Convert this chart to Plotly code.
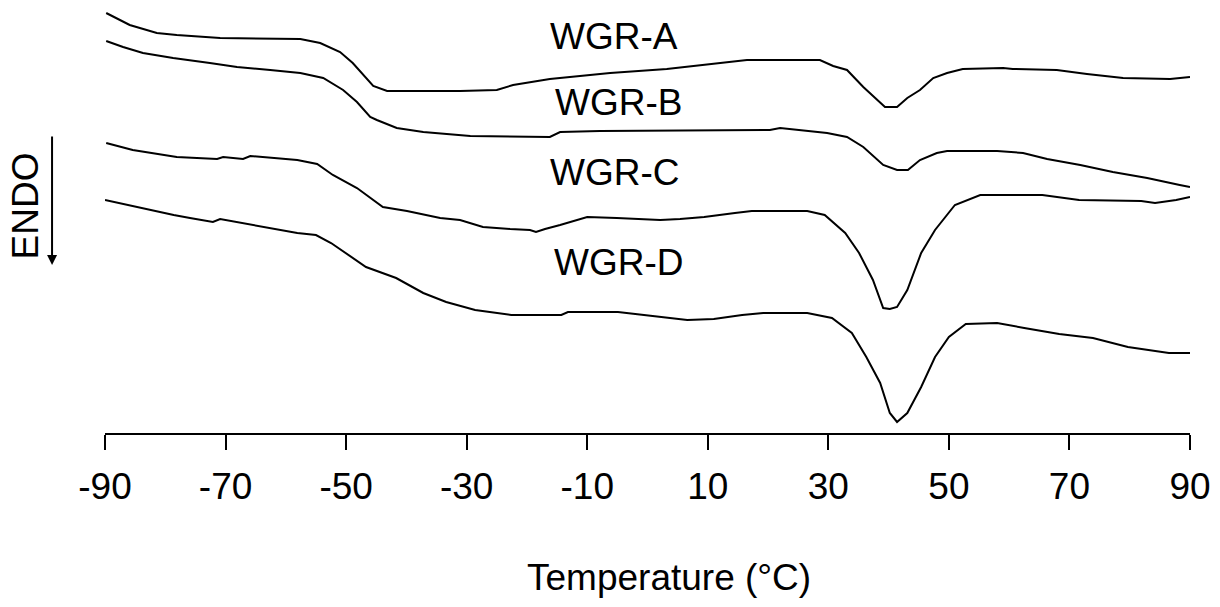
import plotly.graph_objects as go

# ---------------- data ----------------
temp_a = [-89.8, -85.9, -81.4, -78.1, -70.9, -57.6, -54.3, -51.0, -48.9, -47.2, -45.5, -43.2,
          -31.1, -25.0, -22.3, -16.2, -6.2, 3.2, 9.2, 13.2, 16.5, 22.0, 28.6, 30.8, 33.1, 35.8,
          39.4, 41.4, 43.1, 45.2, 47.4, 49.7, 52.3, 59.0, 60.6, 67.9, 72.9, 78.9, 86.7, 90.0]
heat_a = [42.0, 40.8, 40.0, 39.8, 39.5, 39.4, 39.0, 38.1, 37.0, 35.8, 34.7, 34.2,
          34.2, 34.3, 34.8, 35.4, 36.0, 36.4, 36.8, 37.1, 37.3, 37.3, 37.3, 36.7, 36.3, 34.6,
          32.6, 32.6, 33.5, 34.3, 35.5, 36.0, 36.4, 36.5, 36.4, 36.3, 35.9, 35.5, 35.4, 35.6]

temp_b = [-89.8, -87.0, -83.7, -78.7, -72.6, -68.1, -62.6, -57.6, -53.8, -50.5, -48.2, -46.0,
          -44.9, -41.6, -37.2, -29.4, -16.2, -14.5, -7.9, 8.7, 20.3, 22.0, 25.3, 29.8, 33.1,
          35.8, 39.1, 41.4, 43.2, 45.2, 48.0, 49.7, 58.0, 62.3, 66.3, 71.8, 77.2, 82.9, 88.3, 90.0]
heat_b = [39.2, 38.6, 38.0, 37.5, 37.0, 36.6, 36.3, 36.0, 35.5, 34.3, 33.1, 31.6,
          31.3, 30.5, 30.1, 29.7, 29.6, 30.1, 30.2, 30.3, 30.3, 30.5, 30.3, 30.0, 29.6,
          28.6, 26.8, 26.3, 26.3, 27.3, 28.0, 28.2, 28.2, 28.0, 27.4, 26.8, 26.1, 25.5, 24.8, 24.6]

temp_c = [-89.8, -85.4, -78.1, -71.4, -70.4, -67.1, -65.9, -58.1, -54.8, -52.2, -48.2, -43.9,
          -39.9, -34.4, -31.1, -27.3, -22.8, -19.5, -18.5, -17.0, -14.5, -10.0, -5.1, 2.1, 5.4,
          9.4, 14.5, 17.3, 26.5, 29.4, 32.8, 35.1, 37.4, 39.1, 40.2, 41.4, 43.1, 45.4, 47.7,
          51.0, 55.2, 65.5, 71.6, 81.9, 84.2, 87.7, 90.0]
heat_c = [29.0, 28.3, 27.6, 27.4, 27.6, 27.4, 27.7, 27.3, 26.9, 25.8, 24.5, 22.6,
          22.2, 21.5, 21.3, 20.6, 20.4, 20.3, 20.1, 20.4, 20.8, 21.6, 21.5, 21.3, 21.4,
          21.6, 22.0, 22.2, 22.2, 21.8, 20.0, 18.0, 15.3, 12.5, 12.4, 12.6, 14.3, 18.0, 20.3,
          22.8, 23.8, 23.8, 23.3, 23.2, 23.0, 23.3, 23.6]

temp_d = [-90.0, -87.0, -84.9, -81.4, -78.6, -75.9, -72.1, -70.9, -67.1, -62.6, -58.1, -55.0,
          -52.5, -46.7, -41.7, -37.2, -33.4, -28.6, -22.6, -14.3, -13.2, -4.9, 1.4, 6.6, 11.0,
          15.7, 19.2, 26.5, 30.6, 33.9, 36.3, 38.6, 40.2, 41.4, 43.1, 45.4, 47.7, 50.0, 52.8,
          58.0, 62.5, 68.3, 73.9, 79.7, 86.5, 90.0]
heat_d = [23.3, 22.9, 22.6, 22.1, 21.8, 21.5, 21.1, 21.4, 21.0, 20.5, 20.0, 19.8,
          19.0, 16.6, 15.5, 14.0, 13.1, 12.3, 11.8, 11.8, 12.1, 12.1, 11.7, 11.3, 11.4,
          11.8, 12.0, 12.0, 11.5, 10.0, 7.6, 5.0, 2.0, 1.1, 2.0, 4.6, 7.6, 9.6, 10.9,
          11.0, 10.5, 9.9, 9.5, 8.6, 8.0, 8.0]

sample_names = ["WGR-A", "WGR-B", "WGR-C", "WGR-D"]
label_temp = [-5.6, -4.8, -5.4, -4.8]
label_heat = [39.7, 33.1, 26.1, 17.1]
tick_vals = [-90, -70, -50, -30, -10, 10, 30, 50, 70, 90]
tick_text = [str(v) for v in tick_vals]
x_title = "Temperature (°C)"
y_label = "ENDO"

# ---------------- figure ----------------
FONT = "Liberation Sans, Arial, sans-serif"
FS = 37
fig = go.Figure()
for t, h in [(temp_a, heat_a), (temp_b, heat_b), (temp_c, heat_c), (temp_d, heat_d)]:
    fig.add_trace(go.Scatter(x=t, y=h, mode="lines",
                             line=dict(color="black", width=2), showlegend=False,
                             hoverinfo="skip"))

for name, lt, lh in zip(sample_names, label_temp, label_heat):
    fig.add_annotation(x=lt, y=lh, xref="x", yref="y", text=name, showarrow=False,
                       font=dict(family=FONT, size=FS, color="black"))

fig.add_annotation(x=-0.073, y=0.525, xref="paper", yref="paper", text=y_label,
                   textangle=-90, showarrow=False, xanchor="center", yanchor="middle",
                   font=dict(family=FONT, size=FS, color="black"))
fig.add_annotation(x=-0.0488, y=0.388, xref="paper", yref="paper", text="",
                   showarrow=True, ax=0, ay=-130, arrowhead=2, arrowsize=1,
                   arrowwidth=2, arrowcolor="black")
fig.add_annotation(x=0.52, y=-0.3326, xref="paper", yref="paper", text=x_title,
                   showarrow=False, xanchor="center", yanchor="middle",
                   font=dict(family=FONT, size=FS, color="black"))

fig.update_layout(
    width=1220, height=607,
    margin=dict(l=105, r=30, t=0, b=174, autoexpand=False),
    paper_bgcolor="white", plot_bgcolor="white",
    xaxis=dict(range=[-90, 90], tickvals=tick_vals, ticktext=tick_text,
               showgrid=False, zeroline=False, automargin=False,
               showline=True, linecolor="black", linewidth=2,
               ticks="outside", ticklen=15, tickwidth=2, tickcolor="black",
               ticklabelstandoff=5,
               tickfont=dict(family=FONT, size=FS, color="black")),
    yaxis=dict(range=[0, 43.3], visible=False, automargin=False),
)

fig.write_html("out.html", config={"displayModeBar": False},
               post_script="document.body.style.margin='0px';document.body.style.padding='0px';")
